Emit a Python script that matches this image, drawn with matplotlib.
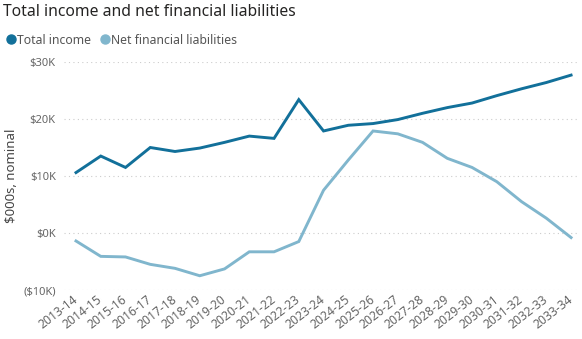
import matplotlib.pyplot as plt
import matplotlib.transforms as mtransforms
from matplotlib.lines import Line2D
import numpy as np

plt.rcParams['font.family'] = ['Noto Sans', 'DejaVu Sans']

# Dados do gráfico
anos = ['2013-14', '2014-15', '2015-16', '2016-17', '2017-18', '2018-19', '2019-20',
        '2020-21', '2021-22', '2022-23', '2023-24', '2024-25', '2025-26', '2026-27',
        '2027-28', '2028-29', '2029-30', '2030-31', '2031-32', '2032-33', '2033-34']
renda_total = [10600, 13500, 11500, 15000, 14300, 14900, 15900, 17000, 16600, 23400,
               17900, 18900, 19200, 19900, 21000, 22000, 22800, 24100, 25300, 26400, 27700]
passivos = [-1400, -4100, -4200, -5500, -6200, -7500, -6300, -3300, -3300, -1500,
            7500, 12800, 17900, 17400, 15900, 13100, 11500, 9000, 5500, 2600, -800]

cor_escura = '#12709A'
cor_clara = '#80B6CD'
cor_texto = '#666666'

fig = plt.figure(figsize=(5.82, 3.39), dpi=100)
ax = fig.add_axes([64 / 582, 1 - 290 / 339, (578 - 64) / 582, (290 - 62) / 339])

x = np.arange(len(anos))
ax.plot(x, passivos, color=cor_clara, lw=2.1, clip_on=False, solid_joinstyle='miter')
ax.plot(x, renda_total, color=cor_escura, lw=2.1, clip_on=False, solid_joinstyle='miter')

ax.set_xlim(-0.485, 20.28)
ax.set_ylim(-10000, 30000)
ax.set_yticks([-10000, 0, 10000, 20000, 30000])
ax.set_yticklabels(['($10K)', '$0K', '$10K', '$20K', '$30K'])
ax.set_xticks(x)
ax.set_xticklabels(anos, rotation=38, ha='right', rotation_mode='anchor')
ax.tick_params(axis='both', length=0, colors=cor_texto, labelsize=8)
ax.tick_params(axis='x', labelsize=8.8, pad=2)
ax.tick_params(axis='y', pad=6)
desloc = mtransforms.ScaledTranslation(-4 / 100, 0, fig.dpi_scale_trans)
for lbl in ax.get_xticklabels():
    lbl.set_transform(lbl.get_transform() + desloc)
for s in ax.spines.values():
    s.set_visible(False)
ax.grid(axis='y', color='#cccccc', linestyle=(0, (1, 3)), lw=0.8)
ax.set_axisbelow(True)

fig.text(12 / 582, 1 - 176 / 339, '$000s, nominal', rotation=90, color='#444444',
         fontsize=9.5, va='center', ha='center')

fig.text(3 / 582, 1 - 12 / 339, 'Total income and net financial liabilities',
         fontsize=11.3, color='#252423', va='center', ha='left')

# Legenda
itens = [Line2D([], [], marker='o', ls='', color=cor_escura, markersize=6.5),
         Line2D([], [], marker='o', ls='', color=cor_clara, markersize=6.5)]
fig.legend(itens, ['Total income', 'Net financial liabilities'], loc='center left',
           bbox_to_anchor=(-0.012, 1 - 40 / 339), ncol=2, frameon=False, fontsize=8.8,
           handletextpad=-0.1, columnspacing=0.5, labelcolor='#555555', handlelength=1.2)

fig.savefig('out.png', dpi=100)
